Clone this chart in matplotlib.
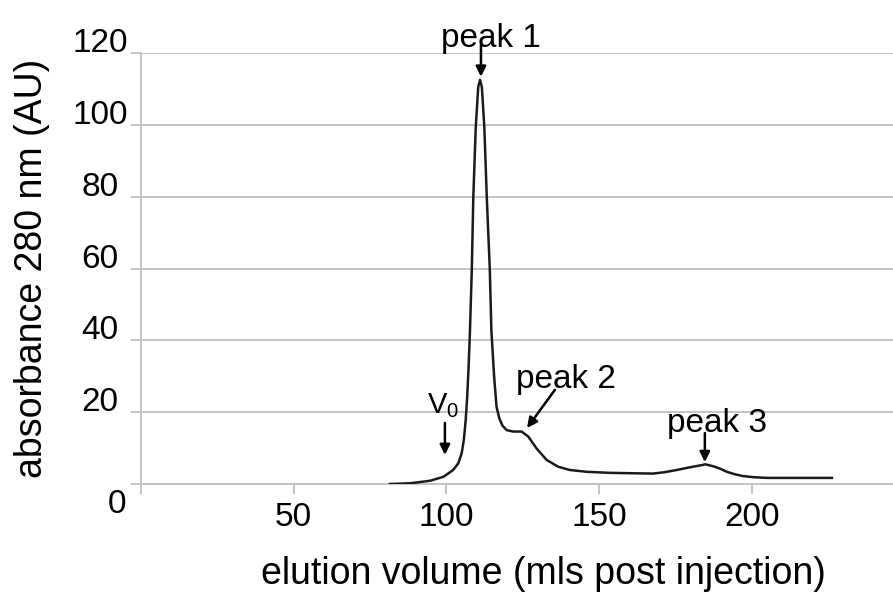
import numpy as np
import matplotlib
matplotlib.use("Agg")
import matplotlib.pyplot as plt
from matplotlib.transforms import ScaledTranslation

plt.rcParams['font.family'] = ['Liberation Sans', 'DejaVu Sans']
plt.rcParams['mathtext.default'] = 'regular'

# elution profile
volume = [81.5, 88.1, 94.6, 99.0, 102.2, 103.9, 105.0, 105.7, 106.3, 106.8,
          107.3, 107.7, 108.3, 108.8, 109.6, 110.4, 111.0, 111.6, 112.4, 113.2,
          114.2, 114.7, 115.6, 116.4, 117.3, 118.3, 119.7, 121.9, 124.6, 126.8,
          129.5, 132.8, 136.6, 140.4, 145.9, 153.5, 167.6, 171.5, 175.4, 180.0,
          183.9, 184.6, 187.5, 189.5, 191.8, 194.5, 197.1, 200.5, 204.9, 226.2]
absorbance = [0.0, 0.2, 0.9, 2.0, 3.9, 5.8, 8.6, 12.3, 17.8, 24.3,
              33.6, 42.6, 59.6, 80.0, 99.4, 110.5, 112.5, 110.5, 99.4, 80.0,
              59.6, 42.9, 30.0, 21.5, 18.3, 16.3, 15.0, 14.6, 14.6, 13.2,
              9.9, 6.7, 4.8, 3.9, 3.4, 3.1, 2.9, 3.3, 3.9, 4.7,
              5.3, 5.5, 4.9, 4.3, 3.4, 2.7, 2.2, 1.9, 1.7, 1.7]

x_ticks = [0, 50, 100, 150, 200]
x_ticklabels = ['', '50', '100', '150', '200']
y_ticks = [0, 20, 40, 60, 80, 100, 120]

# (label, text position, arrow tail, arrow tip, font size)
marks = [
    ('peak 1', (114.7, 123.9), (111.3, 122.3), (111.3, 113.4), 24),
    ('V$_0$', (99.0, 21.7), (99.5, 17.0), (99.5, 8.1), 21),
    ('peak 2', (139.1, 29.0), (135.5, 26.2), (126.4, 15.6), 24),
    ('peak 3', (188.5, 16.9), (184.6, 14.2), (184.6, 6.1), 24),
]

grid_col = '#c4c4c4'

fig = plt.figure(figsize=(8.93, 5.92), dpi=100)
ax = fig.add_axes([141 / 893, 1 - 484 / 592, 752 / 893, 431 / 592])

ax.plot(volume, absorbance, color='#1a1a1a', lw=1.8, zorder=3,
        solid_joinstyle='round')

ax.set_xlim(0, 246.2)
ax.set_ylim(0, 120)
ax.set_xticks(x_ticks)
ax.set_xticklabels(x_ticklabels)
ax.set_yticks(y_ticks)
ax.yaxis.grid(True, color=grid_col, lw=1.4)
ax.set_axisbelow(True)

for s in ['top', 'right']:
    ax.spines[s].set_visible(False)
for s in ['left', 'bottom']:
    ax.spines[s].set_color(grid_col)
    ax.spines[s].set_linewidth(1.4)

ax.tick_params(axis='both', direction='out', length=7, width=1.4,
               color=grid_col, labelsize=24, labelcolor='black')
ax.tick_params(axis='x', pad=6)
ax.tick_params(axis='y', pad=0)

# y tick labels are centred in a column, with the zero label dropped lower
for lab, v in zip(ax.get_yticklabels(), y_ticks):
    lab.set_horizontalalignment('center')
    if v == 0:
        off = ScaledTranslation(-0.14, -0.17, fig.dpi_scale_trans)
    else:
        off = ScaledTranslation(-0.31, 0.13, fig.dpi_scale_trans)
    lab.set_transform(lab.get_transform() + off)

ax.set_xlabel('elution volume (mls post injection)', fontsize=27)
ax.xaxis.set_label_coords(0.5346, -0.166)
ax.set_ylabel('absorbance 280 nm (AU)', fontsize=27)
ax.yaxis.set_label_coords(-0.121, 0.5)

for label, txt, tail, tip, fs in marks:
    ax.text(txt[0], txt[1], label, ha='center', va='center', fontsize=fs,
            clip_on=False)
    ax.annotate('', xy=tip, xytext=tail, annotation_clip=False,
                arrowprops=dict(arrowstyle='-|>,head_length=0.6,head_width=0.3',
                                color='black', lw=1.8, shrinkA=0, shrinkB=0))

plt.savefig('out.png', dpi=100)
